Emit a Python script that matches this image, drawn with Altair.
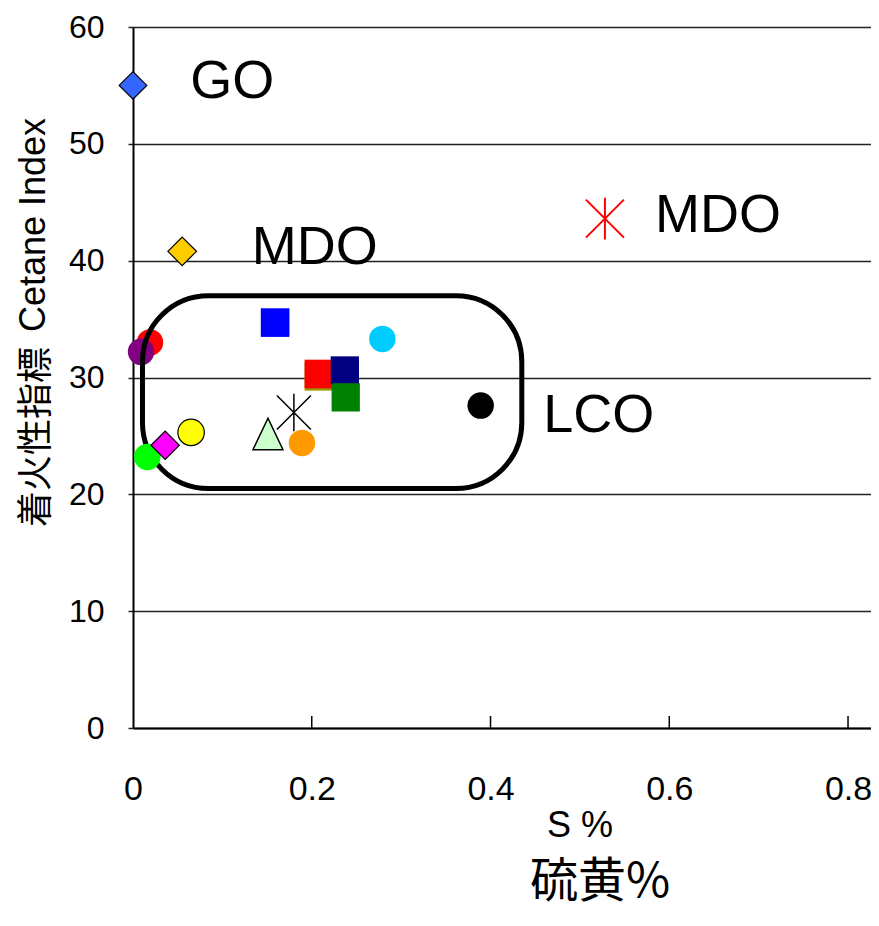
import altair as alt
import pandas as pd

# ---- data ----
STAR = "M0,-1.1L0,1.1M-1,-1L1,1M-1,1L1,-1"
TRI = "M-1,1L0,-1.1L1,1Z"

pt_x = [0.019, 0.009, 0.0, 0.055, 0.528, 0.159, 0.279, 0.208, 0.208, 0.237, 0.238,
        0.389, 0.151, 0.189, 0.180, 0.065, 0.016, 0.036]
pt_y = [33.0, 32.2, 55.0, 40.8, 43.6, 34.7, 33.3, 30.1, 30.3, 30.6, 28.3,
        27.6, 25.1, 24.4, 27.0, 25.3, 23.2, 24.2]
pt_shape = ["circle", "circle", "diamond", "diamond", STAR, "square", "circle", "square", "square",
            "square", "square", "circle", TRI, "circle", STAR, "circle", "circle", "diamond"]
pt_fill = ["#FF0000", "#800080", "#3366FF", "#FFCC00", "transparent", "#0000FF", "#00CCFF", "#999900",
           "#FF0000", "#000080", "#008000", "#000000", "#CCFFCC", "#FF9900", "transparent",
           "#FFFF00", "#00FF00", "#FF00FF"]
pt_stroke = ["#FF0000", "#800080", "#000000", "#000000", "#FF0000", "#0000FF", "#00CCFF", "#999900",
             "#FF0000", "#000080", "#008000", "#000000", "#000000", "#FF9900", "#000000",
             "#000000", "#00FF00", "#000000"]
pt_size = [700, 700, 760, 820, 1444, 820, 700, 820, 820, 800, 800, 700, 900, 700, 1156, 700, 700, 800]
pt_sw = [0, 0, 1.2, 1.2, 2, 0, 0, 0, 0, 0, 0, 0, 1.5, 0, 1.5, 1.2, 0, 1.2]
pt_layer = [0, 0, 1, 1, 1, 1, 1, 1, 1, 1, 1, 1, 1, 1, 1, 1, 1, 1]
pt_order = list(range(len(pt_x)))

lab_text = ["GO", "MDO", "MDO", "LCO"]
lab_x = [0.064, 0.133, 0.584, 0.459]
lab_y = [55.3, 41.1, 43.8, 26.7]

box_x = [0.0106]
box_x2 = [0.435]
box_y = [20.5]
box_y2 = [37.0]

x_ticks = [0.2, 0.4, 0.6, 0.8]
y_ticks = [0, 10, 20, 30, 40, 50, 60]

W, H = 738, 701
FONT = "Liberation Sans, Arial, Noto Sans CJK JP"
CJK = "Noto Sans CJK JP"

pts = pd.DataFrame(dict(x=pt_x, y=pt_y, shape=pt_shape, fill=pt_fill, stroke=pt_stroke,
                        size=pt_size, sw=pt_sw, layer=pt_layer, o=pt_order))
labs = pd.DataFrame(dict(t=lab_text, x=lab_x, y=lab_y))
box = pd.DataFrame(dict(x=box_x, x2=box_x2, y=box_y, y2=box_y2))
ticks = pd.DataFrame(dict(x=x_ticks))

xscale = alt.Scale(domain=[0, 0.8257], nice=False, zero=False)
yscale = alt.Scale(domain=[0, 60], nice=False)

xaxis = alt.Axis(values=x_ticks + [0], format="~g", grid=False, ticks=False, labelPadding=44,
                 labelFontSize=34, labelFont=FONT, labelColor="#000", labelFlush=False,
                 domainColor="#000", domainWidth=2, title=None)
yaxis = alt.Axis(values=y_ticks, grid=True, gridColor="#222", gridWidth=1.5, tickSize=5,
                 tickColor="#222", tickWidth=1.5, labelPadding=24, labelFontSize=32,
                 labelFont=FONT, labelColor="#000", domainColor="#000", domainWidth=2,
                 title=None)

base_pts = alt.Chart(pts).mark_point(filled=True, opacity=1, fillOpacity=1).encode(
    x=alt.X("x:Q", scale=xscale, axis=xaxis),
    y=alt.Y("y:Q", scale=yscale, axis=yaxis),
    shape=alt.Shape("shape:N", scale=None),
    fill=alt.Fill("fill:N", scale=None),
    stroke=alt.Stroke("stroke:N", scale=None),
    size=alt.Size("size:Q", scale=None),
    strokeWidth=alt.StrokeWidth("sw:Q", scale=None),
    order=alt.Order("o:Q"),
)
under = base_pts.transform_filter("datum.layer == 0")
over = base_pts.transform_filter("datum.layer == 1")

rect = alt.Chart(box).mark_rect(filled=False, stroke="#000", strokeWidth=5, cornerRadius=66).encode(
    x=alt.X("x:Q", scale=xscale), x2="x2:Q",
    y=alt.Y("y:Q", scale=yscale), y2="y2:Q",
)

tick_rules = alt.Chart(ticks).mark_rule(color="#000", strokeWidth=1.5).encode(
    x=alt.X("x:Q", scale=xscale), y=alt.value(H), y2=alt.value(H - 12)
)

labels = alt.Chart(labs).mark_text(align="left", baseline="middle", fontSize=54, font=FONT,
                                   color="#000").encode(
    x=alt.X("x:Q", scale=xscale), y=alt.Y("y:Q", scale=yscale), text="t:N"
)

def txt(s, x, y, size, font, angle=0):
    return alt.Chart(pd.DataFrame({"t": [s]})).mark_text(
        align="center", baseline="middle", fontSize=size, font=font, color="#000",
        angle=angle).encode(x=alt.value(x), y=alt.value(y), text="t:N")

yt1 = txt("Cetane Index", -99, 198, 36, FONT, 270)
yt2 = txt("着火性指標", -96, 410, 36, CJK, 270)
xt1 = txt("S %", 447, 799, 36, FONT)
xt2 = txt("硫黄%", 467, 856, 48, CJK)

chart = alt.layer(under, rect, tick_rules, over, labels, yt1, yt2, xt1, xt2).properties(
    width=W, height=H,
    autosize=alt.AutoSizeParams(type="none"),
    padding={"left": 125, "top": 19, "right": 0, "bottom": 190},
).configure_view(stroke=None).configure(background="white")

chart.save("out.html", embed_options={"renderer": "svg", "actions": False})
